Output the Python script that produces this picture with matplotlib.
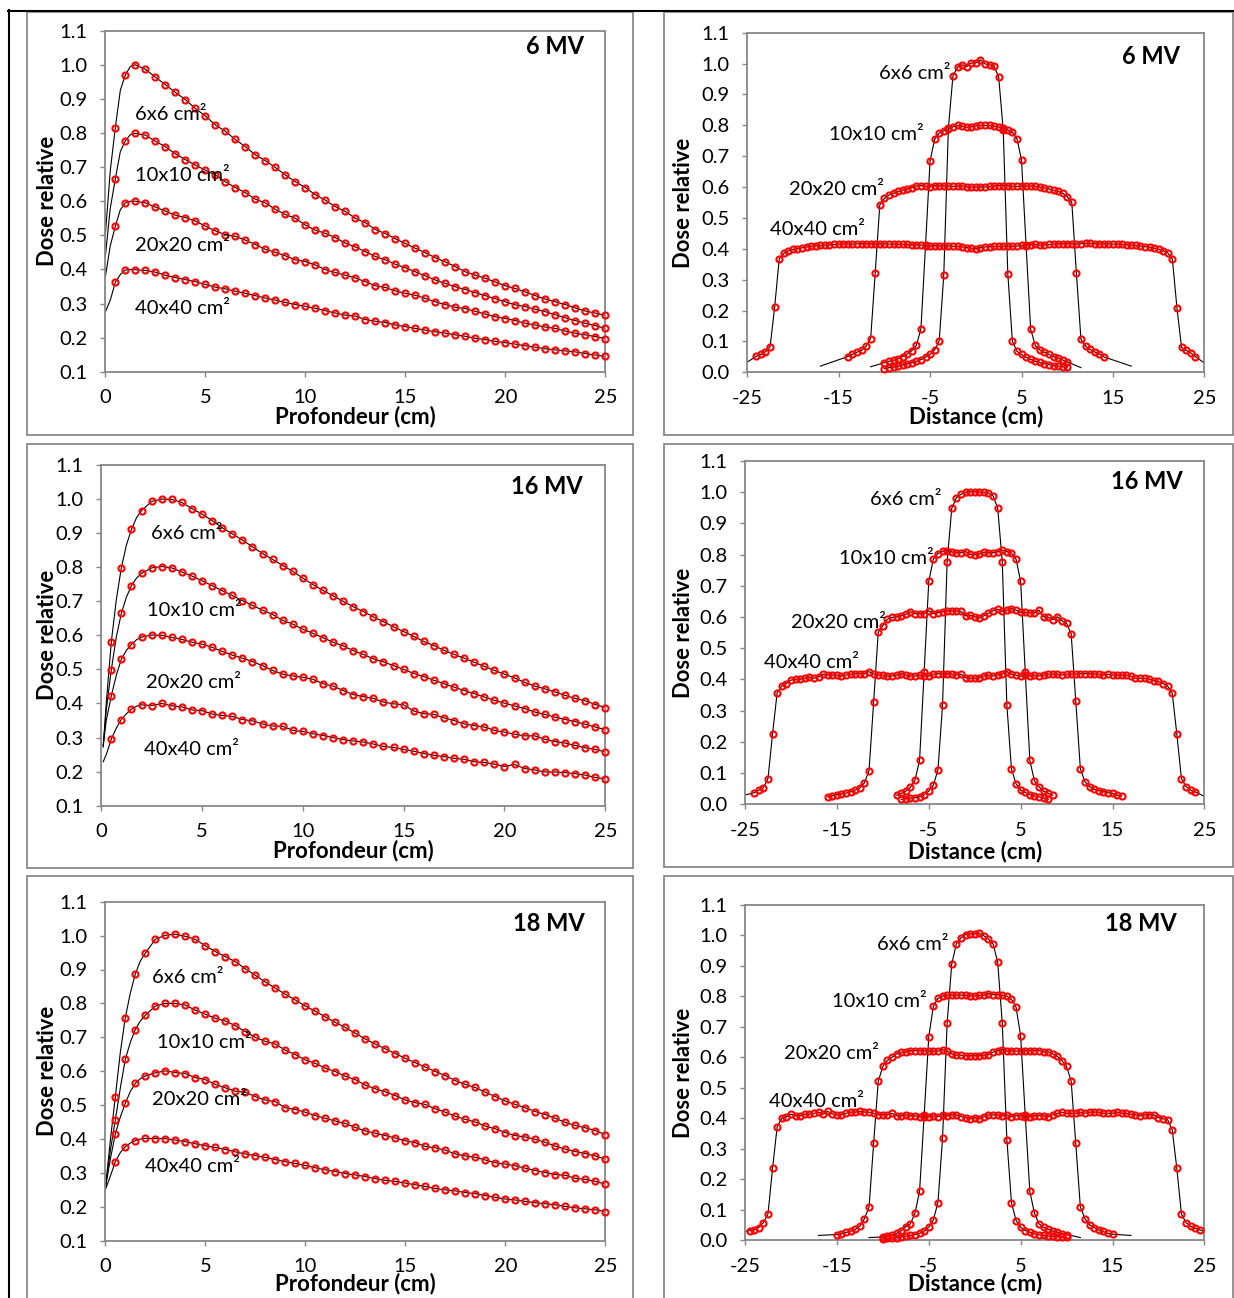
import numpy as np
import matplotlib
matplotlib.use('Agg')
import matplotlib.pyplot as plt
from matplotlib.patches import Rectangle
from matplotlib.lines import Line2D

plt.rcParams['font.family'] = ['Lato', 'DejaVu Sans']

# ----------------------------------------------------------------- data
field_labels = ['6x6 cm²', '10x10 cm²', '20x20 cm²', '40x40 cm²']
energies = ['6 MV', '16 MV', '18 MV']

# depth-dose curves (markers every 0.5 cm, 0.5..25 cm)
depth = np.arange(0.5, 25.01, 0.5)

pdd6_6 = [0.815, 0.970, 1.000, 0.987, 0.964, 0.942, 0.919, 0.898, 0.872, 0.850,
          0.824, 0.805, 0.781, 0.760, 0.736, 0.719, 0.699, 0.677, 0.657, 0.640,
          0.619, 0.603, 0.584, 0.570, 0.550, 0.537, 0.517, 0.505, 0.490, 0.476,
          0.462, 0.449, 0.434, 0.422, 0.408, 0.393, 0.383, 0.374, 0.363, 0.352,
          0.344, 0.334, 0.323, 0.313, 0.305, 0.297, 0.287, 0.278, 0.272, 0.265]
pdd6_10 = [0.665, 0.777, 0.799, 0.794, 0.776, 0.760, 0.739, 0.722, 0.706, 0.691,
           0.677, 0.657, 0.640, 0.625, 0.606, 0.595, 0.576, 0.561, 0.550, 0.530,
           0.515, 0.506, 0.493, 0.477, 0.466, 0.452, 0.438, 0.428, 0.415, 0.405,
           0.393, 0.381, 0.369, 0.359, 0.349, 0.341, 0.332, 0.323, 0.314, 0.305,
           0.296, 0.291, 0.283, 0.276, 0.267, 0.258, 0.250, 0.242, 0.235, 0.227]
pdd6_20 = [0.526, 0.595, 0.600, 0.595, 0.583, 0.571, 0.559, 0.552, 0.542, 0.527,
           0.513, 0.502, 0.497, 0.486, 0.473, 0.459, 0.450, 0.440, 0.428, 0.423,
           0.413, 0.399, 0.391, 0.383, 0.375, 0.364, 0.352, 0.347, 0.337, 0.330,
           0.324, 0.315, 0.305, 0.297, 0.289, 0.285, 0.277, 0.269, 0.261, 0.256,
           0.250, 0.242, 0.237, 0.231, 0.227, 0.219, 0.213, 0.208, 0.203, 0.197]
pdd6_40 = [0.362, 0.398, 0.399, 0.397, 0.392, 0.383, 0.376, 0.370, 0.364, 0.356,
           0.348, 0.343, 0.336, 0.330, 0.323, 0.316, 0.310, 0.303, 0.297, 0.292,
           0.286, 0.279, 0.272, 0.266, 0.263, 0.253, 0.248, 0.244, 0.237, 0.232,
           0.227, 0.222, 0.217, 0.213, 0.208, 0.204, 0.198, 0.194, 0.189, 0.185,
           0.181, 0.176, 0.172, 0.167, 0.164, 0.161, 0.158, 0.153, 0.149, 0.145]

pdd16_6 = [0.580, 0.799, 0.911, 0.966, 0.993, 1.000, 0.999, 0.990, 0.972, 0.956,
           0.937, 0.916, 0.898, 0.880, 0.860, 0.840, 0.823, 0.805, 0.788, 0.768,
           0.749, 0.732, 0.716, 0.700, 0.684, 0.670, 0.654, 0.640, 0.625, 0.611,
           0.597, 0.582, 0.570, 0.556, 0.544, 0.533, 0.521, 0.509, 0.497, 0.486,
           0.475, 0.462, 0.451, 0.443, 0.434, 0.424, 0.415, 0.408, 0.397, 0.388]
pdd16_10 = [0.499, 0.665, 0.746, 0.782, 0.798, 0.802, 0.798, 0.786, 0.774, 0.760,
            0.746, 0.731, 0.717, 0.702, 0.688, 0.674, 0.661, 0.644, 0.633, 0.618,
            0.606, 0.593, 0.580, 0.569, 0.555, 0.544, 0.531, 0.522, 0.511, 0.500,
            0.488, 0.479, 0.468, 0.458, 0.448, 0.438, 0.429, 0.419, 0.409, 0.401,
            0.393, 0.385, 0.375, 0.368, 0.360, 0.353, 0.347, 0.339, 0.331, 0.323]
pdd16_20 = [0.422, 0.530, 0.573, 0.595, 0.601, 0.600, 0.594, 0.588, 0.580, 0.574,
            0.565, 0.553, 0.542, 0.533, 0.523, 0.511, 0.497, 0.486, 0.481, 0.477,
            0.471, 0.458, 0.451, 0.438, 0.426, 0.420, 0.415, 0.404, 0.399, 0.396,
            0.378, 0.370, 0.368, 0.358, 0.350, 0.340, 0.335, 0.331, 0.321, 0.316,
            0.310, 0.305, 0.305, 0.295, 0.288, 0.284, 0.277, 0.270, 0.265, 0.258]
pdd16_40 = [0.295, 0.353, 0.383, 0.396, 0.394, 0.400, 0.393, 0.390, 0.381, 0.379,
            0.369, 0.365, 0.362, 0.353, 0.349, 0.340, 0.334, 0.333, 0.321, 0.318,
            0.311, 0.306, 0.300, 0.294, 0.290, 0.287, 0.281, 0.274, 0.271, 0.265,
            0.260, 0.253, 0.248, 0.244, 0.239, 0.236, 0.229, 0.227, 0.222, 0.215,
            0.221, 0.209, 0.205, 0.199, 0.199, 0.197, 0.194, 0.190, 0.183, 0.179]

pdd18_6 = [0.524, 0.758, 0.887, 0.948, 0.989, 1.001, 1.004, 0.998, 0.989, 0.970,
           0.953, 0.938, 0.923, 0.902, 0.883, 0.863, 0.845, 0.827, 0.810, 0.792,
           0.777, 0.760, 0.744, 0.729, 0.712, 0.695, 0.680, 0.666, 0.652, 0.638,
           0.625, 0.612, 0.599, 0.587, 0.572, 0.561, 0.552, 0.538, 0.525, 0.512,
           0.502, 0.492, 0.481, 0.472, 0.461, 0.449, 0.440, 0.433, 0.425, 0.413]
pdd18_10 = [0.456, 0.635, 0.723, 0.765, 0.792, 0.800, 0.800, 0.795, 0.780, 0.768,
            0.756, 0.748, 0.734, 0.717, 0.700, 0.688, 0.680, 0.662, 0.649, 0.633,
            0.623, 0.609, 0.599, 0.585, 0.575, 0.559, 0.548, 0.539, 0.528, 0.515,
            0.507, 0.502, 0.489, 0.479, 0.467, 0.458, 0.450, 0.438, 0.430, 0.419,
            0.410, 0.406, 0.399, 0.390, 0.379, 0.370, 0.363, 0.357, 0.350, 0.341]
pdd18_20 = [0.415, 0.505, 0.564, 0.586, 0.595, 0.601, 0.596, 0.593, 0.581, 0.575,
            0.561, 0.551, 0.541, 0.538, 0.525, 0.515, 0.510, 0.492, 0.487, 0.479,
            0.469, 0.461, 0.453, 0.446, 0.434, 0.424, 0.417, 0.410, 0.403, 0.395,
            0.389, 0.378, 0.374, 0.367, 0.356, 0.350, 0.346, 0.338, 0.330, 0.326,
            0.321, 0.314, 0.307, 0.301, 0.295, 0.293, 0.284, 0.281, 0.275, 0.267]
pdd18_40 = [0.333, 0.377, 0.395, 0.402, 0.401, 0.401, 0.397, 0.392, 0.386, 0.380,
            0.375, 0.369, 0.362, 0.356, 0.351, 0.346, 0.339, 0.333, 0.328, 0.322,
            0.315, 0.309, 0.304, 0.298, 0.294, 0.289, 0.283, 0.278, 0.275, 0.270,
            0.265, 0.260, 0.254, 0.250, 0.247, 0.242, 0.239, 0.233, 0.228, 0.223,
            0.220, 0.216, 0.212, 0.209, 0.206, 0.201, 0.197, 0.194, 0.191, 0.186]

# calculated curve in the build-up region (line only)
bu6_x = [0.0, 0.25, 0.75, 1.25]
bu6_6 = [0.500, 0.690, 0.925, 0.995]
bu6_10 = [0.437, 0.580, 0.745, 0.795]
bu6_20 = [0.377, 0.470, 0.575, 0.600]
bu6_40 = [0.275, 0.310, 0.385, 0.400]
bu16_x = [0.1, 0.25, 0.75, 1.25, 1.75]
bu16_6 = [0.272, 0.400, 0.705, 0.865, 0.945]
bu16_10 = [0.278, 0.380, 0.595, 0.712, 0.768]
bu16_20 = [0.276, 0.350, 0.483, 0.556, 0.587]
bu16_40 = [0.229, 0.250, 0.328, 0.370, 0.392]
bu18_x = [0.0, 0.25, 0.75, 1.25, 1.75]
bu18_6 = [0.250, 0.395, 0.655, 0.830, 0.925]
bu18_10 = [0.255, 0.365, 0.550, 0.685, 0.748]
bu18_20 = [0.255, 0.340, 0.465, 0.540, 0.578]
bu18_40 = [0.250, 0.290, 0.360, 0.388, 0.400]

# beam profiles (markers every 0.5 cm)
p6_x40 = np.arange(-24, 24.01, 0.5)
p6_40 = [0.052, 0.058, 0.067, 0.082, 0.210, 0.367, 0.385, 0.393, 0.398, 0.401,
         0.403, 0.406, 0.408, 0.410, 0.411, 0.412, 0.413, 0.414, 0.415, 0.416,
         0.416, 0.415, 0.416, 0.417, 0.416, 0.416, 0.415, 0.416, 0.416, 0.415,
         0.415, 0.415, 0.414, 0.414, 0.413, 0.413, 0.412, 0.411, 0.409, 0.410,
         0.409, 0.409, 0.409, 0.408, 0.408, 0.406, 0.404, 0.402, 0.400, 0.404,
         0.406, 0.407, 0.408, 0.408, 0.409, 0.409, 0.408, 0.409, 0.411, 0.412,
         0.413, 0.414, 0.412, 0.413, 0.414, 0.415, 0.416, 0.416, 0.417, 0.416,
         0.416, 0.417, 0.418, 0.418, 0.417, 0.416, 0.416, 0.416, 0.415, 0.415,
         0.414, 0.413, 0.412, 0.411, 0.409, 0.407, 0.405, 0.402, 0.399, 0.394,
         0.387, 0.366, 0.208, 0.081, 0.071, 0.063, 0.051]
p6_x20 = np.arange(-14, 14.01, 0.5)
p6_20 = [0.051, 0.058, 0.065, 0.071, 0.084, 0.109, 0.322, 0.542, 0.563, 0.574,
         0.580, 0.586, 0.590, 0.594, 0.598, 0.604, 0.605, 0.603, 0.601, 0.605,
         0.604, 0.604, 0.603, 0.602, 0.603, 0.604, 0.600, 0.600, 0.600, 0.601,
         0.600, 0.602, 0.603, 0.605, 0.605, 0.604, 0.602, 0.602, 0.603, 0.604,
         0.603, 0.602, 0.600, 0.597, 0.594, 0.589, 0.586, 0.580, 0.569, 0.550,
         0.322, 0.107, 0.085, 0.074, 0.066, 0.060, 0.050]
p6_x10 = np.arange(-10, 10.01, 0.5)
p6_10 = [0.031, 0.036, 0.039, 0.044, 0.051, 0.059, 0.070, 0.087, 0.141, 0.410,
         0.685, 0.755, 0.775, 0.782, 0.788, 0.795, 0.800, 0.797, 0.793, 0.796,
         0.798, 0.800, 0.800, 0.800, 0.797, 0.795, 0.790, 0.785, 0.778, 0.756,
         0.688, 0.410, 0.140, 0.087, 0.073, 0.065, 0.058, 0.051, 0.046, 0.040,
         0.034]
p6_x6 = np.arange(-10, 10.01, 0.5)
p6_6 = [0.012, 0.015, 0.017, 0.020, 0.024, 0.028, 0.031, 0.036, 0.041, 0.049,
        0.058, 0.072, 0.102, 0.316, 0.790, 0.960, 0.988, 0.996, 0.990, 1.002,
        1.002, 1.012, 0.999, 0.996, 0.991, 0.957, 0.785, 0.320, 0.101, 0.068,
        0.058, 0.049, 0.042, 0.036, 0.032, 0.028, 0.025, 0.022, 0.020, 0.018,
        0.016]

p16_x40 = np.arange(-24, 24.01, 0.5)
p16_40 = [0.037, 0.045, 0.053, 0.082, 0.226, 0.358, 0.379, 0.387, 0.398, 0.401,
          0.401, 0.404, 0.408, 0.404, 0.408, 0.417, 0.415, 0.414, 0.414, 0.411,
          0.414, 0.417, 0.419, 0.419, 0.419, 0.425, 0.417, 0.414, 0.414, 0.411,
          0.411, 0.414, 0.419, 0.414, 0.411, 0.411, 0.414, 0.412, 0.411, 0.417,
          0.419, 0.417, 0.419, 0.417, 0.414, 0.417, 0.406, 0.404, 0.404, 0.406,
          0.411, 0.414, 0.411, 0.415, 0.417, 0.425, 0.417, 0.414, 0.411, 0.413,
          0.411, 0.414, 0.411, 0.414, 0.417, 0.417, 0.417, 0.414, 0.417, 0.417,
          0.417, 0.419, 0.419, 0.419, 0.417, 0.417, 0.414, 0.417, 0.414, 0.414,
          0.414, 0.414, 0.411, 0.404, 0.404, 0.404, 0.401, 0.396, 0.394, 0.387,
          0.379, 0.356, 0.225, 0.082, 0.057, 0.045, 0.040]
p16_x20 = np.arange(-16, 16.01, 0.5)
p16_20 = [0.024, 0.028, 0.031, 0.033, 0.036, 0.040, 0.046, 0.052, 0.069, 0.108,
          0.327, 0.551, 0.572, 0.593, 0.599, 0.601, 0.604, 0.609, 0.617, 0.611,
          0.611, 0.611, 0.620, 0.611, 0.614, 0.617, 0.620, 0.620, 0.620, 0.618,
          0.604, 0.606, 0.601, 0.597, 0.604, 0.612, 0.620, 0.625, 0.618, 0.622,
          0.627, 0.622, 0.615, 0.615, 0.613, 0.613, 0.622, 0.601, 0.599, 0.592,
          0.601, 0.588, 0.580, 0.546, 0.331, 0.114, 0.072, 0.057, 0.048, 0.044,
          0.041, 0.037, 0.035, 0.029, 0.026]
p16_x10 = np.arange(-8.5, 8.51, 0.5)
p16_10 = [0.029, 0.035, 0.042, 0.054, 0.077, 0.141, 0.425, 0.714, 0.786, 0.803,
          0.811, 0.813, 0.809, 0.806, 0.806, 0.810, 0.801, 0.800, 0.801, 0.808,
          0.806, 0.806, 0.809, 0.814, 0.810, 0.804, 0.786, 0.714, 0.425, 0.141,
          0.075, 0.056, 0.042, 0.035, 0.029]
p16_x6 = np.arange(-8, 8.01, 0.5)
p16_6 = [0.016, 0.018, 0.020, 0.021, 0.024, 0.031, 0.042, 0.061, 0.110, 0.318,
         0.777, 0.948, 0.982, 0.993, 1.000, 1.002, 1.002, 1.000, 1.000, 0.997,
         0.988, 0.950, 0.777, 0.318, 0.113, 0.066, 0.045, 0.038, 0.031, 0.027,
         0.024, 0.020, 0.016]

p18_x40 = np.arange(-24.5, 24.51, 0.5)
p18_40 = [0.031, 0.034, 0.041, 0.057, 0.085, 0.235, 0.372, 0.400, 0.405, 0.413,
          0.408, 0.408, 0.413, 0.413, 0.416, 0.420, 0.413, 0.422, 0.414, 0.411,
          0.411, 0.416, 0.420, 0.420, 0.422, 0.420, 0.420, 0.416, 0.411, 0.411,
          0.411, 0.416, 0.408, 0.408, 0.411, 0.408, 0.408, 0.405, 0.405, 0.405,
          0.408, 0.405, 0.411, 0.408, 0.411, 0.411, 0.405, 0.402, 0.398, 0.402,
          0.398, 0.405, 0.411, 0.411, 0.411, 0.408, 0.411, 0.405, 0.408, 0.408,
          0.405, 0.405, 0.408, 0.408, 0.408, 0.405, 0.411, 0.416, 0.420, 0.416,
          0.416, 0.416, 0.420, 0.416, 0.420, 0.420, 0.420, 0.416, 0.416, 0.416,
          0.420, 0.416, 0.416, 0.413, 0.411, 0.408, 0.411, 0.411, 0.411, 0.402,
          0.398, 0.395, 0.361, 0.235, 0.085, 0.057, 0.045, 0.039, 0.033]
p18_x20 = np.arange(-15, 15.01, 0.5)
p18_20 = [0.018, 0.021, 0.025, 0.029, 0.035, 0.045, 0.070, 0.108, 0.317, 0.521,
          0.570, 0.590, 0.600, 0.611, 0.617, 0.617, 0.622, 0.622, 0.622, 0.622,
          0.620, 0.620, 0.620, 0.625, 0.620, 0.611, 0.607, 0.607, 0.605, 0.605,
          0.605, 0.605, 0.607, 0.609, 0.617, 0.622, 0.625, 0.620, 0.622, 0.620,
          0.622, 0.622, 0.622, 0.622, 0.622, 0.618, 0.618, 0.611, 0.603, 0.589,
          0.570, 0.521, 0.317, 0.108, 0.070, 0.050, 0.041, 0.033, 0.028, 0.022,
          0.019]
p18_x10 = np.arange(-10, 10.01, 0.5)
p18_10 = [0.010, 0.013, 0.016, 0.022, 0.030, 0.044, 0.053, 0.088, 0.160, 0.410,
          0.667, 0.768, 0.793, 0.801, 0.804, 0.804, 0.804, 0.804, 0.804, 0.801,
          0.801, 0.803, 0.804, 0.809, 0.806, 0.806, 0.804, 0.801, 0.790, 0.765,
          0.670, 0.410, 0.160, 0.088, 0.053, 0.042, 0.035, 0.029, 0.026, 0.021,
          0.018]
p18_x6 = np.arange(-10, 10.01, 0.5)
p18_6 = [0.004, 0.005, 0.006, 0.008, 0.010, 0.013, 0.015, 0.018, 0.022, 0.029,
         0.042, 0.066, 0.123, 0.334, 0.713, 0.906, 0.972, 0.992, 1.003, 1.005,
         1.005, 1.007, 0.999, 0.988, 0.972, 0.913, 0.713, 0.330, 0.123, 0.064,
         0.042, 0.031, 0.026, 0.020, 0.017, 0.015, 0.013, 0.012, 0.011, 0.010,
         0.009]

# calculated profile tails beyond the measured points (line only)
ext6_40_x, ext6_40_y = [-25, 25], [0.033, 0.030]
ext6_20_x, ext6_20_y = [-17, 17], [0.020, 0.020]
ext6_10_x, ext6_10_y = [-11.5, 11.5], [0.018, 0.015]
ext16_40_x, ext16_40_y = [-25, 25], [0.030, 0.025]
ext18_40_x, ext18_40_y = [-25, 25], [0.028, 0.028]
ext18_20_x, ext18_20_y = [-17, 17], [0.015, 0.015]
ext18_10_x, ext18_10_y = [-11.5, 11.5], [0.008, 0.008]

# ----------------------------------------------------------------- layout
W, H = 1234, 1298
fig = plt.figure(figsize=(W / 100, H / 100), dpi=100)
fig.patch.set_facecolor('white')

GRAY = '#878787'
RED = '#ff0000'


def fig_rect(x0, y0, x1, y1):
    return [x0 / W, 1 - y1 / H, (x1 - x0) / W, (y1 - y0) / H]


# chart-area frames
frames = [(27, 11.7, 632.6, 435), (663.5, 11.7, 1232.8, 435),
          (27, 444, 632.6, 868.3), (663.5, 444, 1232.8, 867.3),
          (27, 876, 632.6, 1312), (663.5, 876, 1232.8, 1312)]
for (x0, y0, x1, y1) in frames:
    fig.patches.append(Rectangle((x0 / W, 1 - y1 / H), (x1 - x0) / W, (y1 - y0) / H,
                                 transform=fig.transFigure, fill=False,
                                 edgecolor='#8a8a8a', lw=1.3, zorder=0))
# black table rules
fig.lines.append(Line2D([9 / W, 9 / W], [1 - 10 / H, 0], transform=fig.transFigure,
                        color='black', lw=1.5))
fig.lines.append(Line2D([8 / W, 1], [1 - 10.5 / H, 1 - 10.5 / H],
                        transform=fig.transFigure, color='black', lw=1.5))

panels = [
    # kind, energy index, plot box px, ylabel x px, xlabel y px, title px, label positions
    ('pdd', 0, (105.3, 30.7, 605.3, 371.7), 47, 416.7, (555, 46.7),
     [(1.47, 0.853), (1.47, 0.675), (1.47, 0.47), (1.47, 0.286)]),
    ('prof', 0, (747.2, 32.7, 1204.4, 372.3), 683.6, 416.7, (1150.6, 56.7),
     [(-10.54, 0.968), (-16.0, 0.769), (-20.44, 0.593), (-22.5, 0.461)]),
    ('pdd', 1, (101.2, 465, 605.3, 805.7), 47, 850.7, (547, 486.7),
     [(2.47, 0.90), (2.27, 0.674), (2.2, 0.461), (2.1, 0.266)]),
    ('prof', 1, (745, 461, 1204.4, 804.3), 683.6, 851.7, (1146.4, 481.7),
     [(-11.4, 0.977), (-14.78, 0.788), (-20.0, 0.582), (-22.9, 0.454)]),
    ('pdd', 2, (105.3, 901.7, 605.3, 1240.7), 47, 1283.3, (549, 923.3),
     [(2.32, 0.877), (2.59, 0.685), (2.32, 0.517), (1.98, 0.320)]),
    ('prof', 2, (745, 905, 1204.4, 1240), 683.6, 1283.3, (1141, 923.3),
     [(-10.58, 0.969), (-15.53, 0.782), (-20.76, 0.611), (-22.4, 0.454)]),
]

pdd_sets = [
    (bu6_x, [pdd6_6, pdd6_10, pdd6_20, pdd6_40], [bu6_6, bu6_10, bu6_20, bu6_40]),
    (bu16_x, [pdd16_6, pdd16_10, pdd16_20, pdd16_40], [bu16_6, bu16_10, bu16_20, bu16_40]),
    (bu18_x, [pdd18_6, pdd18_10, pdd18_20, pdd18_40], [bu18_6, bu18_10, bu18_20, bu18_40]),
]
prof_sets = [
    [(p6_x6, p6_6, [], []), (p6_x10, p6_10, ext6_10_x, ext6_10_y),
     (p6_x20, p6_20, ext6_20_x, ext6_20_y), (p6_x40, p6_40, ext6_40_x, ext6_40_y)],
    [(p16_x6, p16_6, [], []), (p16_x10, p16_10, [], []),
     (p16_x20, p16_20, [], []), (p16_x40, p16_40, ext16_40_x, ext16_40_y)],
    [(p18_x6, p18_6, [], []), (p18_x10, p18_10, ext18_10_x, ext18_10_y),
     (p18_x20, p18_20, ext18_20_x, ext18_20_y), (p18_x40, p18_40, ext18_40_x, ext18_40_y)],
]


def draw(ax, xm, ym, xl, yl):
    xl = np.asarray(xl, float)
    yl = np.asarray(yl, float)
    o = np.argsort(xl, kind='stable')
    ax.plot(xl[o], yl[o], color='black', lw=0.8, zorder=2, solid_joinstyle='round')
    ax.plot(xm, ym, ls='none', marker='o', ms=4.4, mfc='none', mec=RED, mew=1.5,
            zorder=3, clip_on=False)


for kind, ei, box, ylab_x, xlab_y, tpos, lpos in panels:
    x0, y0, x1, y1 = box
    ax = fig.add_axes(fig_rect(x0, y0, x1, y1))
    ax.set_facecolor('none')
    if kind == 'pdd':
        bx, curves, bus = pdd_sets[ei]
        for vals, buv in zip(curves, bus):
            draw(ax, depth, vals, list(bx) + list(depth), list(buv) + list(vals))
        ax.set_xlim(0, 25)
        ax.set_ylim(0.1, 1.1)
        xt = [0, 5, 10, 15, 20, 25]
        yt = np.round(np.arange(0.1, 1.101, 0.1), 1)
        xlabel = 'Profondeur (cm)'
    else:
        for xm, ym, ex, ey in prof_sets[ei]:
            draw(ax, xm, ym, list(xm) + list(ex), list(ym) + list(ey))
        ax.set_xlim(-25, 25)
        ax.set_ylim(0.0, 1.1)
        xt = [-25, -15, -5, 5, 15, 25]
        yt = np.round(np.arange(0.0, 1.101, 0.1), 1)
        xlabel = 'Distance (cm)'
    ax.set_xticks(xt)
    ax.set_xticklabels([f'{v:g}' for v in xt])
    ax.set_yticks(yt)
    ax.set_yticklabels([f'{v:.1f}' for v in yt])
    for s in ax.spines.values():
        s.set_color(GRAY)
        s.set_linewidth(1.3)
    ax.tick_params(axis='both', direction='out', length=3.8, width=1.0, color=GRAY,
                   labelsize=14.5, labelcolor='black')
    ax.tick_params(axis='y', pad=9)
    ax.tick_params(axis='x', pad=9)
    ax.set_xlabel(xlabel, fontsize=16, fontweight='bold', va='center')
    ax.xaxis.set_label_coords(0.5, -(xlab_y - y1) / (y1 - y0))
    ax.set_ylabel('Dose relative', fontsize=15.8, fontweight='bold', va='center', ha='center')
    ax.yaxis.set_label_coords((ylab_x - x0) / (x1 - x0), 0.5)
    for lab, (lx, ly) in zip(field_labels, lpos):
        ax.text(lx, ly, lab, fontsize=14.5, ha='left', va='center', zorder=4)
    fig.text(tpos[0] / W, 1 - tpos[1] / H, energies[ei], fontsize=17,
             fontweight='bold', ha='center', va='center')

fig.savefig('out.png', dpi=100, facecolor='white')
